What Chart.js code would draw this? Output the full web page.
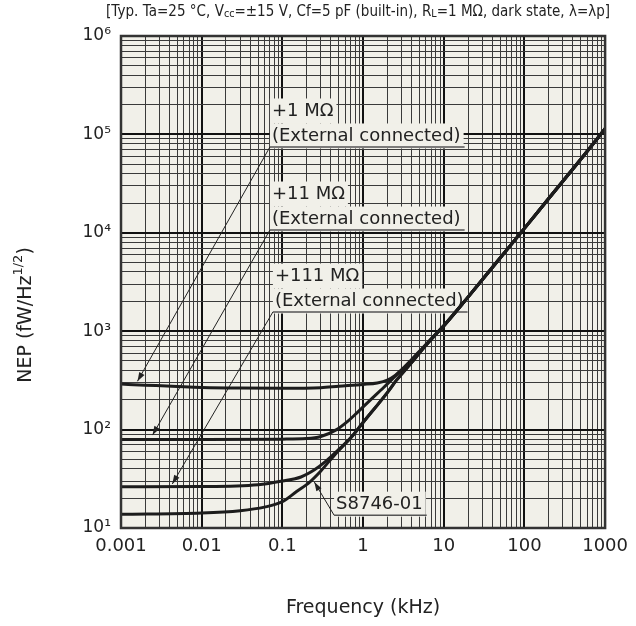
<!DOCTYPE html>
<html>
<head>
<meta charset="utf-8">
<script src="https://cdn.jsdelivr.net/npm/chart.js@4.4.1/dist/chart.umd.min.js"></script>
<style>
    html, body { margin: 0; padding: 0; background: #fff; }
    #wrap { width: 636px; height: 626px; position: relative; }
</style>
</head>
<body>
<div id="wrap"><canvas id="nepChart"></canvas></div>
<script>
// frequency in kHz, NEP in fW/Hz^1/2
const freq1M = [0.001, 0.002, 0.005, 0.01, 0.03, 0.1, 0.3, 0.5, 1, 1.5, 2, 2.5, 3, 4, 5.5, 8, 10, 20, 50, 100, 200, 500, 1000];
const nep1M = [290, 283, 274, 268, 264, 263, 267, 276, 288, 298, 318, 355, 405, 515, 680, 940, 1140, 2220, 5550, 11100, 22300, 56000, 114000];

const freq11M = [0.001, 0.01, 0.1, 0.2, 0.3, 0.47, 0.65, 0.84, 1.2, 1.8, 2.6, 4, 5.5, 8, 10, 20, 50, 100, 200, 500, 1000];
const nep11M = [79.5, 79.5, 80, 81, 85, 100, 122, 148, 196, 268, 360, 505, 670, 930, 1130, 2220, 5550, 11100, 22300, 56000, 114000];

const freq111M = [0.001, 0.01, 0.05, 0.1, 0.17, 0.25, 0.35, 0.5, 0.7, 1, 2, 2.6, 4, 5.5, 8, 10, 20, 50, 100, 200, 500, 1000];
const nep111M = [26.3, 26.4, 27.5, 30, 33, 39, 48, 63, 82, 118, 238, 318, 480, 660, 930, 1130, 2220, 5550, 11100, 22300, 56000, 114000];

const freqS8746 = [0.001, 0.01, 0.03, 0.06, 0.1, 0.15, 0.22, 0.3, 0.45, 0.7, 1, 2, 2.6, 4, 5.5, 8, 10, 20, 50, 100, 200, 500, 1000];
const nepS8746 = [13.8, 14.2, 15, 16.3, 18.5, 23.5, 29.5, 38, 56, 82, 118, 238, 318, 480, 660, 930, 1130, 2220, 5550, 11100, 22300, 56000, 114000];

const xTickValues = [0.001, 0.01, 0.1, 1, 10, 100, 1000];
const xTickLabels = ['0.001', '0.01', '0.1', '1', '10', '100', '1000'];
const yTickValues = [10, 100, 1000, 10000, 100000, 1000000];
const yTickLabels = ['10¹', '10²', '10³', '10⁴', '10⁵', '10⁶'];

// callouts: text lines, left end of underline and arrow tip, both in (kHz, NEP)
const callouts = [
    { lines: ['+1 MΩ', '(External connected)'], anchor: [0.0701, 74500], tip: [0.0016, 310] },
    { lines: ['+11 MΩ', '(External connected)'], anchor: [0.0701, 10670], tip: [0.00246, 88] },
    { lines: ['+111 MΩ', '(External connected)'], anchor: [0.0763, 1567], tip: [0.00432, 28] },
    { lines: ['S8746-01'], anchor: [0.4375, 13.5], tip: [0.249, 29.3] }
];

const FONT = '"DejaVu Sans", Verdana, sans-serif';
const plotBg = '#f1f0e9';
const ink = '#222';

function decadeGrid(lo, hi) {
    const vals = [];
    for (let e = Math.round(Math.log10(lo)); e < Math.round(Math.log10(hi)); e++) {
        for (let k = 1; k < 10; k++) vals.push(k * Math.pow(10, e));
    }
    vals.push(hi);
    return vals;
}

function isDecade(v) {
    const l = Math.log10(v);
    return Math.abs(l - Math.round(l)) < 1e-6;
}

function labelFor(values, labels, v) {
    const i = values.findIndex(t => Math.abs(t - v) / t < 1e-6);
    return i >= 0 ? labels[i] : '';
}

function pts(xs, ys) {
    return xs.map((x, i) => ({ x: x, y: ys[i] }));
}

function curve(data) {
    return {
        data: data,
        showLine: true,
        borderColor: '#1c1c1c',
        borderWidth: 3,
        pointRadius: 0,
        fill: false,
        cubicInterpolationMode: 'monotone'
    };
}

const gridStyle = {
    drawTicks: false,
    color: ctx => (ctx.tick && isDecade(ctx.tick.value)) ? '#111' : '#3a3a3a',
    lineWidth: ctx => (ctx.tick && isDecade(ctx.tick.value)) ? 2 : 1
};

const decor = {
    id: 'decor',
    beforeDraw(chart) {
        const c = chart.ctx, a = chart.chartArea;
        c.save();
        c.fillStyle = '#fff';
        c.fillRect(0, 0, chart.width, chart.height);
        c.fillStyle = plotBg;
        c.fillRect(a.left, a.top, a.right - a.left, a.bottom - a.top);
        c.restore();
    },
    beforeDatasetsDraw(chart) {
        const c = chart.ctx;
        const xs = chart.scales.x, ys = chart.scales.y;
        c.save();
        c.font = '18px ' + FONT;
        c.textBaseline = 'middle';
        callouts.forEach(co => {
            const ax = xs.getPixelForValue(co.anchor[0]);
            const ay = ys.getPixelForValue(co.anchor[1]);
            const tx = xs.getPixelForValue(co.tip[0]);
            const ty = ys.getPixelForValue(co.tip[1]);
            let maxW = 0;
            const n = co.lines.length;
            co.lines.forEach((t, i) => {
                const w = c.measureText(t).width;
                maxW = Math.max(maxW, w);
                const cy = ay - 11 - (n - 1 - i) * 25;
                c.fillStyle = plotBg;
                c.fillRect(ax, cy - 12.5, w + 5, 25);
                c.fillStyle = ink;
                c.fillText(t, ax + 2, cy);
            });
            // underline
            c.strokeStyle = '#555';
            c.lineWidth = 1.5;
            c.beginPath();
            c.moveTo(ax, ay);
            c.lineTo(ax + maxW + 6, ay);
            c.stroke();
            // leader with arrow head
            c.strokeStyle = ink;
            c.lineWidth = 1;
            c.beginPath();
            c.moveTo(ax, ay);
            c.lineTo(tx, ty);
            c.stroke();
            const ang = Math.atan2(ty - ay, tx - ax);
            const L = 9, W = 3;
            c.fillStyle = ink;
            c.beginPath();
            c.moveTo(tx, ty);
            c.lineTo(tx - L * Math.cos(ang) + W * Math.sin(ang), ty - L * Math.sin(ang) - W * Math.cos(ang));
            c.lineTo(tx - L * Math.cos(ang) - W * Math.sin(ang), ty - L * Math.sin(ang) + W * Math.cos(ang));
            c.closePath();
            c.fill();
        });
        c.restore();
    },
    afterDatasetsDraw(chart) {
        const c = chart.ctx, a = chart.chartArea;
        c.save();
        c.strokeStyle = '#333';
        c.lineWidth = 2.5;
        c.strokeRect(a.left, a.top, a.right - a.left, a.bottom - a.top);
        c.restore();
    },
    afterDraw(chart) {
        const c = chart.ctx, a = chart.chartArea;
        c.save();
        c.fillStyle = ink;

        // condition line above the plot, squeezed to the plot width
        const segs = [
            { t: '[Typ. Ta=25 °C, V', f: '15.5px ' + FONT, dy: 0 },
            { t: 'cc', f: '11px ' + FONT, dy: 1 },
            { t: '=±15 V, Cf=5 pF (built-in), R', f: '15.5px ' + FONT, dy: 0 },
            { t: 'L', f: '11px ' + FONT, dy: 1 },
            { t: '=1 MΩ, dark state, λ=λp]', f: '15.5px ' + FONT, dy: 0 }
        ];
        let tw = 0;
        segs.forEach(s => { c.font = s.f; s.w = c.measureText(s.t).width; tw += s.w; });
        const target = 504;
        c.save();
        c.translate(a.right + 5 - target, 16);
        c.scale(target / tw, 1);
        c.textBaseline = 'alphabetic';
        let px = 0;
        segs.forEach(s => { c.font = s.f; c.fillText(s.t, px, s.dy); px += s.w; });
        c.restore();

        // x axis title
        c.font = '19px ' + FONT;
        c.textAlign = 'center';
        c.textBaseline = 'middle';
        c.fillText('Frequency (kHz)', (a.left + a.right) / 2, 608);

        // y axis title with superscript
        const main = 'NEP (fW/Hz', sup = '1/2', tail = ')';
        c.font = '19px ' + FONT;
        const w1 = c.measureText(main).width, w3 = c.measureText(tail).width;
        c.font = '13px ' + FONT;
        const w2 = c.measureText(sup).width;
        const total = w1 + w2 + w3;
        c.translate(26, 315);
        c.rotate(-Math.PI / 2);
        c.textAlign = 'left';
        c.font = '19px ' + FONT;
        c.fillText(main, -total / 2, 0);
        c.font = '13px ' + FONT;
        c.fillText(sup, -total / 2 + w1, -7);
        c.font = '19px ' + FONT;
        c.fillText(tail, -total / 2 + w1 + w2, 0);
        c.restore();
    }
};

const ctx = document.getElementById('nepChart').getContext('2d');
const nepChart = new Chart(ctx, {
    type: 'scatter',
    data: {
        datasets: [
            curve(pts(freq1M, nep1M)),
            curve(pts(freq11M, nep11M)),
            curve(pts(freq111M, nep111M)),
            curve(pts(freqS8746, nepS8746))
        ]
    },
    options: {
        responsive: true,
        maintainAspectRatio: false,
        animation: false,
        layout: { padding: { top: 36, right: 24, left: 0, bottom: 0 } },
        plugins: { legend: { display: false }, tooltip: { enabled: false } },
        scales: {
            x: {
                type: 'logarithmic',
                min: 0.001,
                max: 1000,
                border: { display: false },
                grid: gridStyle,
                afterBuildTicks: scale => { scale.ticks = decadeGrid(0.001, 1000).map(v => ({ value: v })); },
                afterFit: scale => { scale.height = 98; },
                ticks: {
                    autoSkip: false,
                    maxRotation: 0,
                    padding: 8,
                    color: ink,
                    font: { family: FONT, size: 18 },
                    callback: v => labelFor(xTickValues, xTickLabels, v)
                }
            },
            y: {
                type: 'logarithmic',
                min: 10,
                max: 1000000,
                border: { display: false },
                grid: gridStyle,
                afterBuildTicks: scale => { scale.ticks = decadeGrid(10, 1000000).map(v => ({ value: v })); },
                afterFit: scale => { scale.width = 121; },
                ticks: {
                    autoSkip: false,
                    padding: 10,
                    color: ink,
                    font: { family: FONT, size: 17 },
                    callback: v => labelFor(yTickValues, yTickLabels, v)
                }
            }
        }
    },
    plugins: [decor]
});
</script>
</body>
</html>
